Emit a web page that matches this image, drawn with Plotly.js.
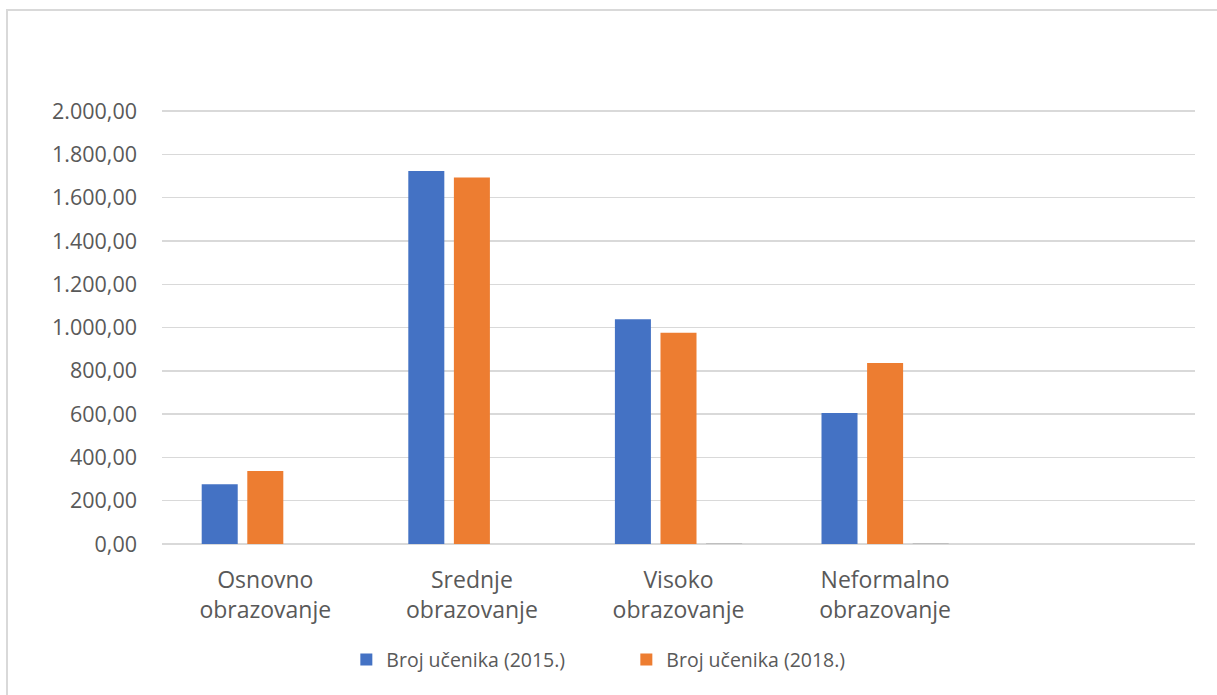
<!DOCTYPE html>
<html>
<head>
<meta charset="utf-8">
<script src="https://cdn.plot.ly/plotly-3.0.1.min.js"></script>
<style>
html,body{margin:0;padding:0;background:#fff;overflow:hidden;}
#frame{position:absolute;left:6px;top:9px;width:1400px;height:900px;border-left:2px solid #d9d9d9;border-top:2px solid #d9d9d9;}
#chart{position:absolute;left:0;top:0;width:1217px;height:695px;}
</style>
</head>
<body>
<div id="frame"></div>
<div id="chart"></div>
<script>
const categories = ['Osnovno<br>obrazovanje', 'Srednje<br>obrazovanje', 'Visoko<br>obrazovanje', 'Neformalno<br>obrazovanje'];
const seriesNames = ['Broj učenika (2015.)', 'Broj učenika (2018.)', ''];
const values2015 = [276, 1724, 1039, 605];
const values2018 = [337, 1694, 976, 836];
const values3 = [null, null, 2, 2];
const yTicks = [0, 200, 400, 600, 800, 1000, 1200, 1400, 1600, 1800, 2000];

const font = 'Open Sans';
const textColor = '#595959';

const traces = [
  {type: 'bar', name: seriesNames[0], x: categories, y: values2015, marker: {color: '#4472C4'}, hoverinfo: 'y'},
  {type: 'bar', name: seriesNames[1], x: categories, y: values2018, marker: {color: '#ED7D31'}, hoverinfo: 'y'},
  {type: 'bar', name: seriesNames[2], x: categories, y: values3, marker: {color: '#A5A5A5'}, showlegend: false, hoverinfo: 'y'}
];

const layout = {
  width: 1217, height: 695,
  paper_bgcolor: 'rgba(0,0,0,0)', plot_bgcolor: 'rgba(0,0,0,0)',
  margin: {l: 162, r: 22, t: 109, b: 151},
  separators: ',.',
  barmode: 'group', bargap: 0.338, bargroupgap: 0.21,
  font: {family: font, color: textColor},
  xaxis: {
    type: 'category', range: [-0.5, 4.5],
    showgrid: false, showline: false, zeroline: false,
    ticks: '', tickfont: {family: font, size: 23, color: textColor},
    ticklabelstandoff: 20
  },
  yaxis: {
    range: [0, 2010], tickvals: yTicks, tickformat: ',.2f',
    showgrid: true, gridcolor: '#d9d9d9', gridwidth: 1.5,
    zeroline: true, zerolinecolor: '#d9d9d9', zerolinewidth: 1.5,
    showline: false, ticks: '',
    tickfont: {family: font, size: 21.5, color: textColor},
    ticklabelstandoff: 24
  },
  showlegend: true,
  legend: {
    orientation: 'h', x: 0.4495, xanchor: 'center', y: -0.266, yanchor: 'middle',
    font: {family: font, size: 19.5, color: textColor},
    entrywidth: 235, entrywidthmode: 'pixels', itemwidth: 30,
    bgcolor: 'rgba(0,0,0,0)'
  }
};

Plotly.newPlot('chart', traces, layout, {displayModeBar: false, staticPlot: true});
</script>
</body>
</html>
